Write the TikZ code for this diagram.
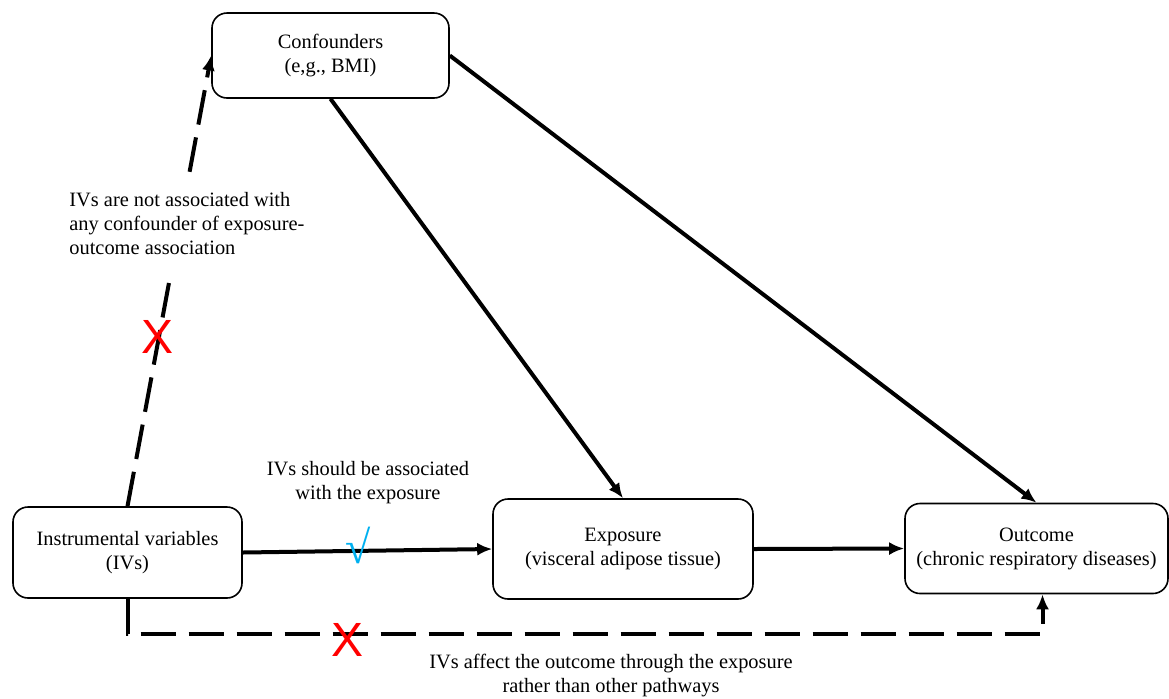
\documentclass[tikz,border=0pt]{standalone}
\usepackage{fontspec}
\setmainfont{Liberation Serif}
\newfontfamily\marksans{Liberation Sans}
\usetikzlibrary{arrows.meta,calc}
\begin{document}
\begin{tikzpicture}[x=0.5pt,y=-0.5pt,
  box/.style={draw=black,line width=0.8pt,rounded corners=7.5pt,align=center,inner sep=0pt,font=\fontsize{10.2}{12}\selectfont},
  lbl/.style={align=center,inner sep=0pt,font=\fontsize{10.2}{12}\selectfont},
  conn/.style={line width=2pt,-{Latex[length=7.5pt,width=6.5pt]}},
  dconn/.style={line width=2pt,dash pattern=on 17.5pt off 6.5pt},
  redx/.style={text=red,inner sep=0pt,font=\marksans\fontsize{24}{24}\selectfont}
]
\useasboundingbox (0,0) rectangle (1169,698);
\node[box,minimum width=118.5pt,minimum height=42.5pt] (conf) at (330.5,55.5) {Confounders\\(e,g., BMI)};
\node[box,minimum width=114.5pt,minimum height=45.5pt] (iv) at (127.5,552.5) {Instrumental variables\\(IVs)};
\node[box,minimum width=130pt,minimum height=50pt] (exp) at (623,549) {Exposure\\(visceral adipose tissue)};
\node[box,minimum width=131.5pt,minimum height=45pt] (out) at (1036.5,548.5) {Outcome\\(chronic respiratory diseases)};

\node[lbl,align=left,anchor=west] (l1) at (69,224) {IVs are not associated with\\any confounder of exposure-\\outcome association};
\node[lbl] (l2) at (368,483) {IVs should be associated\\with the exposure};
\node[lbl] (l3) at (611,676) {IVs affect the outcome through the exposure\\rather than other pathways};

\draw[conn] (conf.south) -- (exp.north);
\draw[conn] (conf.east) -- (out.north);
\draw[conn] (iv.east) -- (exp.west);
\draw[conn] (exp.east) -- (out.west);

\coordinate (g1) at ($(iv.north)!0.496!(conf.west)$);
\coordinate (g2) at ($(iv.north)!0.742!(conf.west)$);
\draw[dconn] (iv.north) -- (g1);
\draw[dconn,-{Latex[length=7.5pt,width=6.5pt]}] (g2) -- (conf.west);
\coordinate (bl) at ($(iv.south)+(0,35)$);
\draw[dconn,-{Latex[length=7.5pt,width=6.5pt]}] (iv.south) -- (bl) -| ([xshift=3pt]out.south);

\node[redx] (x1) at (158,337) {X};
\node[redx] (x2) at (348,640) {X};
\node[text={rgb,255:red,0;green,176;blue,240},inner sep=0pt,font=\fontsize{23}{23}\selectfont] (ck) at (358,545) {√};
\end{tikzpicture}
\end{document}
